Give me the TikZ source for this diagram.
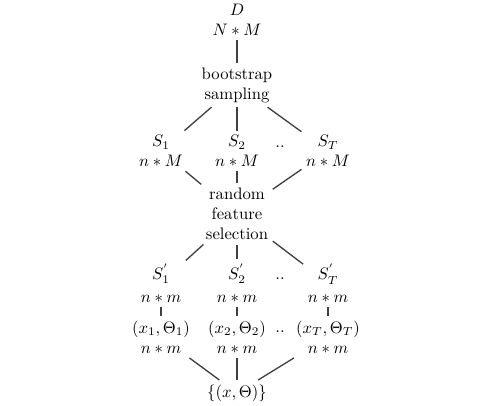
\documentclass[tikz,border=0pt]{standalone}
\usetikzlibrary{arrows}

\begin{document}
\begin{tikzpicture}[thick,x=0.6pt,y=-0.6pt]
      \tikzstyle{node}=[align=center,inner sep=2.4pt]
      \tikzstyle{ln}=[-,draw=black!75]

      \useasboundingbox (0,0) rectangle (480,406);

      \node[node] (D)  at (237,20)  {$D$\\$N*M$};
      \node[node] (B)  at (237,85)  {bootstrap\\sampling};

      \node[node] (S1) at (161,151) {$S_1$\\$n*M$};
      \node[node] (S2) at (237,151) {$S_2$\\$n*M$};
      \node[node] (ST) at (328,151) {$S_T$\\$n*M$};
      \node       (d1) at (280,147) {..};

      \node[node] (R)  at (237,214) {random\\feature\\selection};

      \node[node] (P1) at (161,283) {$S^{'}_1$\\[1.5pt]$n*m$};
      \node[node] (P2) at (237,283) {$S^{'}_2$\\[1.5pt]$n*m$};
      \node[node] (PT) at (328,283) {$S^{'}_T$\\[1.5pt]$n*m$};
      \node       (d2) at (280,279) {..};

      \node[node] (X1) at (161,337) {$(x_1,\Theta_1)$\\$n*m$};
      \node[node] (X2) at (237,337) {$(x_2,\Theta_2)$\\$n*m$};
      \node[node] (XT) at (328,337) {$(x_T,\Theta_T)$\\$n*m$};
      \node       (d3) at (280,332) {..};

      \node[node] (F)  at (237,393) {$\{(x,\Theta)\}$};

      \draw[ln] (D) -- (B);
      \draw[ln] (B) -- (S1);
      \draw[ln] (B) -- (S2);
      \draw[ln] (B) -- (ST);
      \draw[ln] (S1) -- (R);
      \draw[ln] (S2) -- (R);
      \draw[ln] (ST) -- (R);
      \draw[ln] (R) -- (P1);
      \draw[ln] (R) -- (P2);
      \draw[ln] (R) -- (PT);
      \draw[ln] (P1) -- (X1);
      \draw[ln] (P2) -- (X2);
      \draw[ln] (PT) -- (XT);
      \draw[ln] (X1) -- (F);
      \draw[ln] (X2) -- (F);
      \draw[ln] (XT) -- (F);
    \end{tikzpicture}
\end{document}
